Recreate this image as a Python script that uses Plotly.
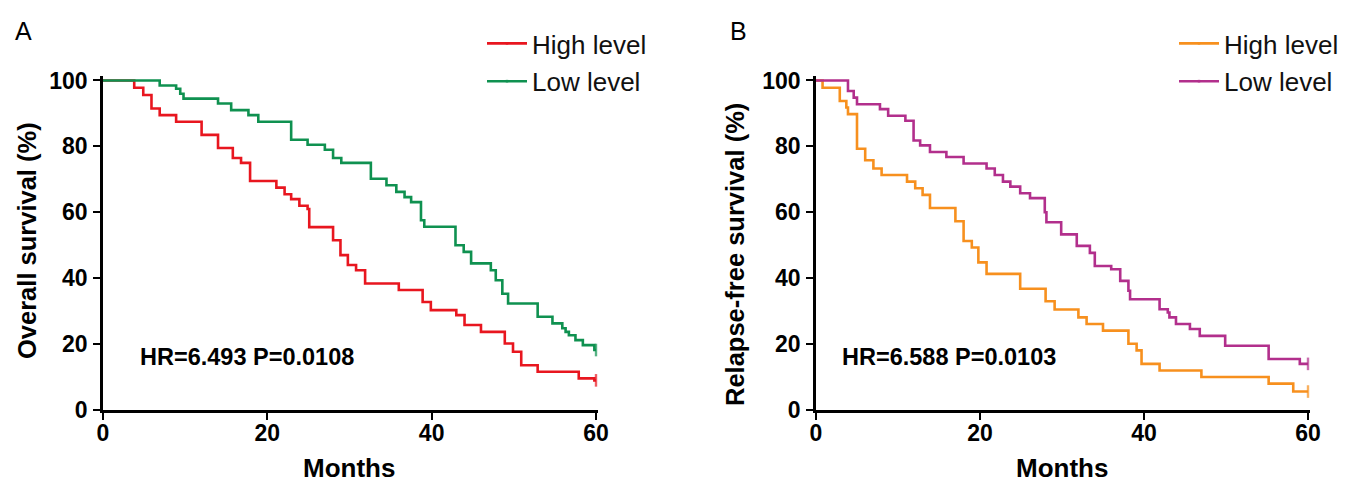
import plotly.graph_objects as go

# ---------------- data ----------------
# Panel A: overall survival (%)
a_high_t = [0, 3.8, 4.9, 5.9, 6.9, 8.9, 12.0, 14.0, 15.8, 16.8, 17.9, 21.1, 22.1, 22.9, 23.9, 24.9,
            25.1, 28.0, 28.9, 29.8, 30.8, 31.9, 36.0, 38.9, 39.9, 43.0, 44.0, 46.0, 48.9, 49.9,
            50.9, 52.9, 57.9, 59.8, 60]
a_high_s = [100, 97.8, 95.6, 91.5, 89.5, 87.5, 83.5, 79.5, 76.5, 75.0, 69.5, 67.5, 65.5, 64.0, 62.0, 61.0,
            55.5, 51.5, 47.0, 44.0, 42.4, 38.4, 36.4, 32.8, 30.3, 28.8, 25.8, 23.7, 20.2, 17.7,
            13.6, 11.6, 9.6, 9.0, 9.0]
a_low_t = [0, 6.9, 8.9, 9.4, 9.8, 14.0, 15.6, 17.7, 18.9, 22.9, 24.9, 27.0, 28.0, 29.0, 32.6, 34.5,
           35.7, 36.7, 37.5, 38.7, 39.1, 42.9, 43.9, 44.8, 47.2, 47.8, 48.6, 49.3, 52.9, 54.7,
           55.9, 56.3, 56.7, 57.5, 58.4, 59.8, 60]
a_low_s = [100, 98.5, 97.5, 96.0, 94.5, 93.0, 91.0, 89.5, 87.5, 82.0, 80.5, 79.0, 76.5, 75.0, 70.2, 68.2,
           66.2, 64.6, 63.1, 57.6, 55.6, 50.0, 48.0, 44.5, 42.4, 39.4, 35.3, 32.3, 28.3, 26.3,
           24.8, 23.7, 22.7, 21.2, 19.7, 18.2, 18.2]

# Panel B: relapse-free survival (%)
b_high_t = [0, 0.8, 2.9, 3.7, 3.9, 5.0, 6.0, 7.0, 8.0, 11.1, 12.1, 13.0, 13.9, 17.0, 18.0, 19.0,
            19.8, 20.8, 24.9, 28.0, 29.1, 32.0, 33.0, 35.0, 38.1, 39.1, 39.7, 41.9, 47.0, 55.2,
            58.2, 60]
b_high_s = [100, 97.8, 93.8, 91.8, 89.8, 79.3, 75.8, 73.3, 71.3, 69.3, 67.3, 65.3, 61.3, 57.3, 51.3, 49.3,
            44.8, 41.3, 36.8, 33.0, 30.5, 28.1, 26.1, 24.1, 20.1, 18.1, 14.0, 12.0, 10.0, 8.0,
            5.6, 5.6]
b_low_t = [0, 3.9, 4.6, 5.0, 7.8, 8.8, 10.9, 11.9, 12.7, 13.9, 15.9, 18.0, 20.8, 21.8, 22.8, 23.7,
           24.9, 26.1, 27.9, 28.1, 29.9, 31.8, 33.4, 34.0, 36.0, 37.1, 38.1, 38.3, 41.9, 42.9,
           43.1, 43.9, 45.6, 46.8, 49.9, 55.2, 59.0, 60]
b_low_s = [100, 96.8, 94.8, 92.8, 91.3, 89.3, 87.8, 81.8, 80.3, 78.3, 76.8, 74.8, 73.3, 71.3, 69.3, 67.8,
           65.8, 64.3, 60.0, 57.0, 53.3, 49.8, 47.7, 43.7, 42.7, 39.2, 36.2, 33.6, 30.6, 29.6,
           28.1, 26.1, 24.6, 22.5, 19.5, 15.5, 14.0, 14.0]

series_names = ["High level", "Low level"]
x_ticks = [0, 20, 40, 60]
y_ticks = [0, 20, 40, 60, 80, 100]
panel_labels = ["A", "B"]
y_titles = ["Overall survival (%)", "Relapse-free survival (%)"]
x_title = "Months"
stats_text = ["HR=6.493 P=0.0108", "HR=6.588 P=0.0103"]

# ---------------- styling ----------------
RED = "#E8161F"
GREEN = "#0F9150"
ORANGE = "#F7901E"
MAGENTA = "#B22F8C"
FONT = "Liberation Sans, Arial, sans-serif"
W, H = 1357, 486

fig = go.Figure()


def add_curve(t, s, name, color, xa, ya, legend):
    # censor tick only at the last observation (end of follow-up)
    sizes = [0] * (len(t) - 1) + [9]
    fig.add_trace(go.Scatter(
        x=t, y=s, mode="lines+markers", line=dict(color=color, width=2.6, shape="hv"),
        xaxis=xa, yaxis=ya, name=name, legend=legend, legendgroup=name + legend,
        showlegend=True, hoverinfo="x+y", cliponaxis=False,
        marker=dict(symbol="line-ns-open", size=sizes, line=dict(width=2.4, color=color), color=color),
    ))


add_curve(a_high_t, a_high_s, series_names[0], RED, "x", "y", "legend")
add_curve(a_low_t, a_low_s, series_names[1], GREEN, "x", "y", "legend")
add_curve(b_high_t, b_high_s, series_names[0], ORANGE, "x2", "y2", "legend2")
add_curve(b_low_t, b_low_s, series_names[1], MAGENTA, "x2", "y2", "legend2")

# pixel geometry of the two panels
xa_px = (103, 596)
xb_px = (816, 1308)
y0_px, y100_px = 410, 80.5
x_hi = 60.3
y_hi = 101.5


def xdom(px):
    per = (px[1] - px[0]) / 60.0
    return [px[0] / W, (px[0] + x_hi * per) / W]


per_y = (y0_px - y100_px) / 100.0
ydom = [(H - y0_px) / H, (H - (y0_px - y_hi * per_y)) / H]

axis_common = dict(
    showline=True, linewidth=2.5, linecolor="black", ticks="outside", ticklen=7,
    tickwidth=2.2, tickcolor="black", showgrid=False, zeroline=False, automargin=False,
    tickfont=dict(family=FONT, size=23, color="black", weight="bold"),
)
xaxis_extra = dict(ticklabelstandoff=-6)
yaxis_extra = dict(ticklabelstandoff=1)

fig.update_layout(
    template="none",
    width=W, height=H, autosize=False,
    margin=dict(l=0, r=0, t=0, b=0, pad=0),
    paper_bgcolor="white", plot_bgcolor="white",
    xaxis=dict(domain=xdom(xa_px), range=[0, x_hi], tickvals=x_ticks, anchor="y", **axis_common, **xaxis_extra),
    yaxis=dict(domain=ydom, range=[0, y_hi], tickvals=y_ticks, anchor="x", **axis_common, **yaxis_extra),
    xaxis2=dict(domain=xdom(xb_px), range=[0, x_hi], tickvals=x_ticks, anchor="y2", **axis_common, **xaxis_extra),
    yaxis2=dict(domain=ydom, range=[0, y_hi], tickvals=y_ticks, anchor="x2", **axis_common, **yaxis_extra),
    legend=dict(x=482 / W, y=1 - 20 / H, xanchor="left", yanchor="top",
                font=dict(family=FONT, size=26, color="#111"), bgcolor="rgba(0,0,0,0)",
                itemwidth=40, tracegroupgap=1),
    legend2=dict(x=1174 / W, y=1 - 20 / H, xanchor="left", yanchor="top",
                 font=dict(family=FONT, size=26, color="#111"), bgcolor="rgba(0,0,0,0)",
                 itemwidth=40, tracegroupgap=1),
    showlegend=True,
)


def text(x, y, s, size, bold=False, angle=0, xanchor="center"):
    f = dict(family=FONT, size=size, color="black")
    if bold:
        f["weight"] = "bold"
    return dict(x=x / W, y=1 - y / H, text=s, showarrow=False, xref="paper", yref="paper",
                xanchor=xanchor, yanchor="middle", textangle=angle, font=f)


ann = [
    text(23, 31, panel_labels[0], 25),
    text(738, 31, panel_labels[1], 25),
    text(27, 241, y_titles[0], 25.5, bold=True, angle=-90),
    text(735, 255, y_titles[1], 25.5, bold=True, angle=-90),
    text(349, 468, x_title, 26, bold=True),
    text(1062, 468, x_title, 26, bold=True),
    text(138, 357, stats_text[0], 23.5, bold=True, xanchor="left"),
    text(840, 357, stats_text[1], 23.5, bold=True, xanchor="left"),
]
fig.update_layout(annotations=ann)

fig.write_html("out.html", config={"displayModeBar": False},
               post_script="document.body.style.margin='0px';")
